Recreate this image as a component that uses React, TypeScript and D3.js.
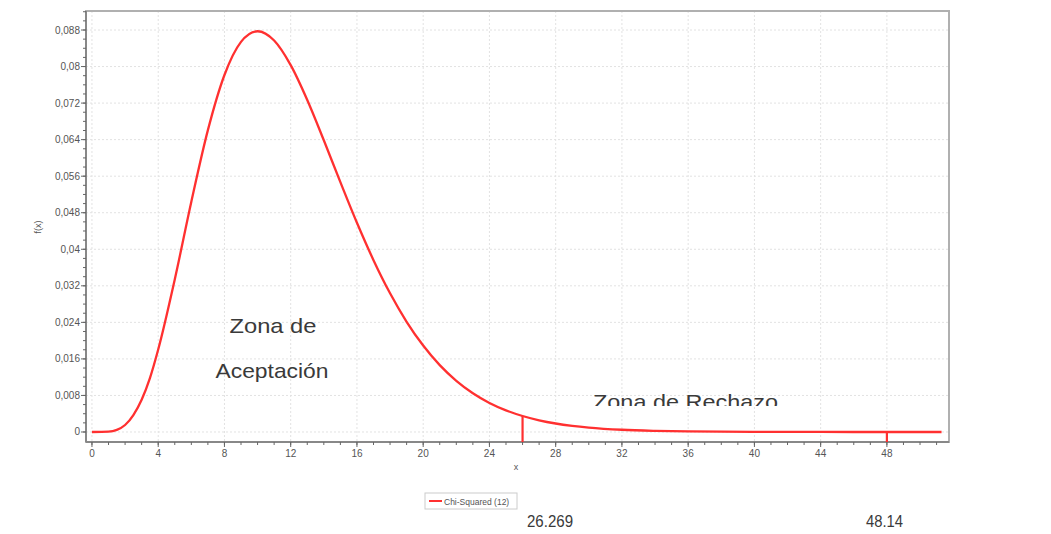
import React from "react";
import * as d3 from "d3";

// Density values (x, f(x))
const curveX = [0, 1, 1.5, 2, 2.5, 3, 3.5, 4, 5, 6, 7, 8, 9, 10, 11, 12, 13, 14, 15, 16, 17, 18, 19, 20, 21, 22, 23, 24, 25, 26, 27, 28, 29, 30, 32, 34, 36, 38, 40, 44, 48, 51.3];
const curveY = [0, 0.00008, 0.00046, 0.00153, 0.0037, 0.00706, 0.0118, 0.01805, 0.0334, 0.05041, 0.06608, 0.07815, 0.08541, 0.08773, 0.0857, 0.08031, 0.07268, 0.06386, 0.05469, 0.0458, 0.03762, 0.03036, 0.02413, 0.01892, 0.01464, 0.01121, 0.00849, 0.00637, 0.00474, 0.0035, 0.00256, 0.00186, 0.00135, 0.00097, 0.00049, 0.00025, 0.00012, 0.00006, 0.00003, 0.000006, 0.000001, 0];

const markerX = [26.0, 48.0];
const markerY = [0.0035, 0.000001];

const xTicks = [0, 4, 8, 12, 16, 20, 24, 28, 32, 36, 40, 44, 48];
const yTicks = [0, 0.008, 0.016, 0.024, 0.032, 0.04, 0.048, 0.056, 0.064, 0.072, 0.08, 0.088];
const yTickLabels = ["0", "0,008", "0,016", "0,024", "0,032", "0,04", "0,048", "0,056", "0,064", "0,072", "0,08", "0,088"];

const legendLabel = "Chi-Squared (12)";
const bottomLabels = ["26.269", "48.14"];

export default function App() {
  const left = 86, right = 949, top = 11, bottom = 442;
  const x = d3.scaleLinear().domain([-0.36, 51.75]).range([left, right]);
  const y = d3.scaleLinear().domain([-0.00219, 0.09216]).range([bottom, top]);

  const pts: [number, number][] = curveX.map((v, i) => [v, curveY[i]]);
  const line = d3
    .line<[number, number]>()
    .x((d) => x(d[0]))
    .y((d) => y(d[1]))
    .curve(d3.curveMonotoneX);

  const xMinor = d3.range(0, 52, 1);
  const yMinor = d3.range(0, 0.0921, 0.002);

  const textColor = "#3a3a3a";
  const tickColor = "#666";
  const red = "#ff3030";

  return (
    <svg
      width={1051}
      height={534}
      style={{ position: "absolute", left: 0, top: 0, background: "#fff" }}
      fontFamily="'Liberation Sans', Arial, sans-serif"
    >
      <defs>
        <clipPath id="plotClip">
          <rect x={left} y={top} width={right - left} height={bottom - top} />
        </clipPath>
        <clipPath id="rechazoClip">
          <rect x={500} y={380} width={400} height={26} />
        </clipPath>
      </defs>
      <rect x={0} y={0} width={1051} height={534} fill="#fff" />
      <rect x={left} y={top} width={right - left} height={bottom - top} fill="#fff" />
      {/* grid */}
      <g stroke="#e2e2e2" strokeWidth={1} strokeDasharray="2,2">
        {xTicks.map((t) => (
          <line key={"gx" + t} x1={x(t)} x2={x(t)} y1={top} y2={bottom} />
        ))}
        {yTicks.map((t) => (
          <line key={"gy" + t} x1={left} x2={right} y1={y(t)} y2={y(t)} />
        ))}
      </g>
      {/* frame */}
      <rect
        x={left}
        y={top}
        width={right - left}
        height={bottom - top}
        fill="none"
        stroke="#b0b0b0"
        strokeWidth={2}
      />
      {/* axes */}
      <line x1={left} x2={left} y1={top} y2={bottom} stroke="#888" strokeWidth={2} />
      <line x1={left} x2={right} y1={bottom} y2={bottom} stroke="#888" strokeWidth={2} />
      {/* ticks */}
      <g stroke={tickColor} strokeWidth={1}>
        {xMinor.map((t) => (
          <line key={"xm" + t} x1={x(t)} x2={x(t)} y1={bottom} y2={bottom + 3} />
        ))}
        {xTicks.map((t) => (
          <line key={"xt" + t} x1={x(t)} x2={x(t)} y1={bottom} y2={bottom + 5} />
        ))}
        {yMinor.map((t, i) => (
          <line key={"ym" + i} x1={left - 3} x2={left} y1={y(t)} y2={y(t)} />
        ))}
        {yTicks.map((t) => (
          <line key={"yt" + t} x1={left - 5} x2={left} y1={y(t)} y2={y(t)} />
        ))}
      </g>
      <g fontSize={10} fill="#555">
        {xTicks.map((t) => (
          <text key={"xl" + t} x={x(t)} y={457} textAnchor="middle">
            {t}
          </text>
        ))}
        {yTicks.map((t, i) => (
          <text key={"yl" + t} x={80} y={y(t) + 3.5} textAnchor="end">
            {yTickLabels[i]}
          </text>
        ))}
        <text x={516} y={470} textAnchor="middle" fontSize={9}>x</text>
        <text x={41} y={227} textAnchor="middle" fontSize={9} transform="rotate(-90 41 227)">f(x)</text>
      </g>
      {/* curve */}
      <g clipPath="url(#plotClip)">
        <path d={line(pts) || ""} fill="none" stroke={red} strokeWidth={2.3} />
        {markerX.map((m, i) => (
          <line
            key={"mk" + i}
            x1={x(m)}
            x2={x(m)}
            y1={y(markerY[i])}
            y2={bottom}
            stroke={red}
            strokeWidth={2.2}
          />
        ))}
      </g>
      {/* annotations */}
      <text x={273} y={333} fontSize={21} fill={textColor} textAnchor="middle" textLength={87} lengthAdjust="spacingAndGlyphs">
        Zona de
      </text>
      <text x={272} y={378} fontSize={21} fill={textColor} textAnchor="middle" textLength={113} lengthAdjust="spacingAndGlyphs">
        Aceptación
      </text>
      <g clipPath="url(#rechazoClip)">
        <text x={593} y={409} fontSize={21} fill={textColor} textLength={185} lengthAdjust="spacingAndGlyphs">
          Zona de Rechazo
        </text>
      </g>
      {/* legend */}
      <rect x={425} y={493} width={92} height={16} fill="#fff" stroke="#ccc" strokeWidth={1} />
      <line x1={429} x2={442} y1={501} y2={501} stroke={red} strokeWidth={2} />
      <text x={444} y={504.5} fontSize={8.5} fill="#555">
        {legendLabel}
      </text>
      {/* bottom labels */}
      <text x={527} y={527} fontSize={16} fill={textColor} textLength={46} lengthAdjust="spacingAndGlyphs">
        {bottomLabels[0]}
      </text>
      <text x={866} y={527} fontSize={16} fill={textColor} textLength={37} lengthAdjust="spacingAndGlyphs">
        {bottomLabels[1]}
      </text>
    </svg>
  );
}
